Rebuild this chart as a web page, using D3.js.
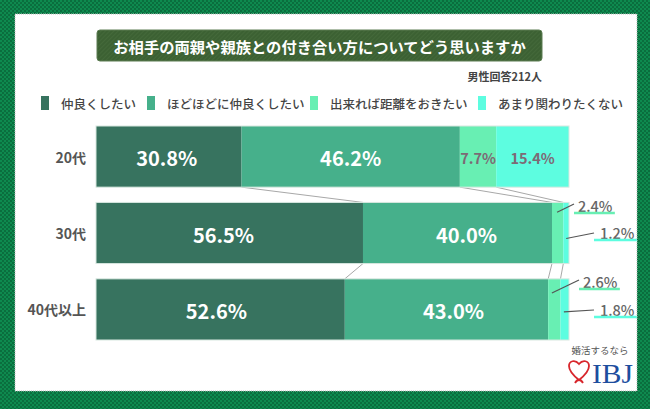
<!DOCTYPE html>
<html><head><meta charset="utf-8">
<script src="https://cdn.jsdelivr.net/npm/d3@7"></script>
<style>html,body{margin:0;padding:0;background:#fff;}svg{display:block;}</style>
</head><body>
<svg id="c" width="650" height="409"></svg>
<script>
const categories = ["20代", "30代", "40代以上"];
const seriesNames = ["仲良くしたい", "ほどほどに仲良くしたい", "出来れば距離をおきたい", "あまり関わりたくない"];
const s1 = [30.8, 56.5, 52.6];
const s2 = [46.2, 40.0, 43.0];
const s3 = [7.7, 2.4, 2.6];
const s4 = [15.4, 1.2, 1.8];
const colors = ["#37735f", "#46b08b", "#68efb3", "#5dfde0"];
const title = "お相手の両親や親族との付き合い方についてどう思いますか";
const note = "男性回答212人";

const font = "'Noto Sans CJK JP','Noto Sans',sans-serif";
const svg = d3.select("#c");
const defs = svg.append("defs");
const pat = defs.append("pattern").attr("id","chk").attr("width",4).attr("height",4).attr("patternUnits","userSpaceOnUse");
pat.append("rect").attr("width",4).attr("height",4).attr("fill","#0a6e3e");
pat.append("rect").attr("width",2).attr("height",2).attr("fill","#0e8a4f");
pat.append("rect").attr("x",2).attr("y",2).attr("width",2).attr("height",2).attr("fill","#0e8a4f");
const tp = defs.append("pattern").attr("id","tstripe").attr("width",3).attr("height",3).attr("patternUnits","userSpaceOnUse").attr("patternTransform","rotate(45)");
tp.append("rect").attr("width",3).attr("height",3).attr("fill","#3c6133");
tp.append("rect").attr("width",1).attr("height",3).attr("fill","#44693a");

svg.append("rect").attr("width",650).attr("height",409).attr("fill","url(#chk)");
svg.append("rect").attr("x",15).attr("y",14).attr("width",622).attr("height",377).attr("fill","#fff")
  .attr("stroke","#bbb").attr("stroke-width",1).attr("stroke-dasharray","1,1");

// title
svg.append("rect").attr("x",97).attr("y",30).attr("width",445).attr("height",31).attr("rx",3)
  .attr("fill","url(#tstripe)").attr("stroke","#5c7d52").attr("stroke-width",1);
svg.append("text").attr("x",319.5).attr("y",46).attr("text-anchor","middle").attr("dominant-baseline","central")
  .attr("fill","#fff").attr("font-family",font).attr("font-weight","bold").attr("font-size",15.3).text(title);
svg.append("text").attr("x",542).attr("y",76).attr("text-anchor","end").attr("dominant-baseline","central")
  .attr("fill","#444").attr("font-family",font).attr("font-weight","bold").attr("font-size",11).text(note);

// legend
const legX = [41, 147, 310, 478];
seriesNames.forEach((n,i)=>{
  const g = svg.append("g");
  g.append("rect").attr("x",legX[i]).attr("y",96).attr("width",8).attr("height",14).attr("fill",colors[i]);
  g.append("text").attr("x",legX[i]+20).attr("y",103).attr("dominant-baseline","central")
    .attr("fill","#444").attr("font-family",font).attr("font-weight","500").attr("font-size",12.5).text(n);
});

// data
const series = [s1,s2,s3,s4];
const rows = categories.map((c,i)=>{
  const vals = series.map(s=>s[i]);
  const total = d3.sum(vals);
  let cum = 0;
  const segs = vals.map((v,k)=>{const a=cum; cum+=v; return {v,k,a:a/total,b:cum/total};});
  return {c, segs};
});

const x = d3.scaleLinear().domain([0,1]).range([96,569]);
const y = d3.scaleBand().domain(categories).range([126,340]).paddingInner(0.2);

// connectors
for (let i=0;i<rows.length-1;i++){
  for (let k=0;k<3;k++){
    svg.append("line")
      .attr("x1",x(rows[i].segs[k].b)).attr("y1",y(rows[i].c)+y.bandwidth())
      .attr("x2",x(rows[i+1].segs[k].b)).attr("y2",y(rows[i+1].c))
      .attr("stroke","#a8a8a8").attr("stroke-width",1);
  }
}

// bars
rows.forEach(r=>{
  const g = svg.append("g");
  g.selectAll("rect").data(r.segs).enter().append("rect")
    .attr("x",d=>x(d.a)).attr("y",y(r.c)).attr("width",d=>x(d.b)-x(d.a)).attr("height",y.bandwidth())
    .attr("fill",d=>colors[d.k]);
  g.append("rect").attr("x",x(0)).attr("y",y(r.c)).attr("width",x(1)-x(0)).attr("height",y.bandwidth())
    .attr("fill","none").attr("stroke","#d8e8e0").attr("stroke-width",1);
  svg.append("text").attr("x",86).attr("y",y(r.c)+y.bandwidth()/2).attr("text-anchor","end").attr("dominant-baseline","central")
    .attr("fill","#555").attr("font-family",font).attr("font-weight","bold").attr("font-size",14).text(r.c);
});

// inside labels
const shift = [[-2,0,0,0],[-6,9,0,0],[-4,7,0,0]];
rows.forEach((r,i)=>{
  r.segs.forEach(d=>{
    const w = x(d.b)-x(d.a);
    if (w < 25) return;
    const big = d.k < 2;
    svg.append("text").attr("x",(x(d.a)+x(d.b))/2 + shift[i][d.k]).attr("y",y(r.c)+y.bandwidth()/2+1)
      .attr("text-anchor","middle").attr("dominant-baseline","central")
      .attr("fill", big ? "#fff" : "#7d6a75").attr("font-family",font).attr("font-weight","bold")
      .attr("font-size", big ? 20 : 14.5).text(d.v.toFixed(1)+"%");
  });
});

// outside labels for small segments
const outLab = [
  {row:1,k:2, px:0.45, py:0.16, tx:578, ty:205, ul:4},
  {row:1,k:3, px:0.5, py:0.59, tx:600, ty:232, ul:6},
  {row:2,k:2, px:0.3, py:0.23, tx:583, ty:281, ul:4},
  {row:2,k:3, px:0.4, py:0.54, tx:600, ty:309, ul:6}
];
outLab.forEach(o=>{
  const r = rows[o.row], d = r.segs[o.k];
  const sx = x(d.a) + (x(d.b)-x(d.a))*o.px;
  const sy = y(r.c) + y.bandwidth()*o.py;
  const t = svg.append("text").attr("x",o.tx).attr("y",o.ty).attr("dominant-baseline","central")
    .attr("fill","#666").attr("font-family",font).attr("font-weight","500").attr("font-size",14.5).text(d.v.toFixed(1)+"%");
  const bb = t.node().getBBox();
  svg.append("line").attr("x1",bb.x-o.ul).attr("x2",bb.x+bb.width+2).attr("y1",o.ty+8).attr("y2",o.ty+8)
    .attr("stroke",colors[o.k]).attr("stroke-width",2.5);
  svg.append("line").attr("x1",sx).attr("y1",sy).attr("x2",bb.x-o.ul).attr("y2",o.ty+ (o.k===2 ? -1 : 1))
    .attr("stroke","#555").attr("stroke-width",1.2);
});

// logo
svg.append("text").attr("x",600).attr("y",350).attr("text-anchor","middle").attr("dominant-baseline","central")
  .attr("fill","#555").attr("font-family",font).attr("font-size",9.5).text("婚活するなら");
svg.append("path")
  .attr("d","M579,380 C574,376 569,370 569,366 C569,361 575,359 579,364 C583,359 589,361 589,366 C589,370 584,376 579,380 M575,383 C577,379 581,379 583,383")
  .attr("fill","none").attr("stroke","#d8262c").attr("stroke-width",1.8);
svg.append("text").attr("x",592).attr("y",383).attr("fill","#1d4e9e")
  .attr("font-family","'Liberation Serif','DejaVu Serif',serif").attr("font-size",28).attr("textLength",41).attr("lengthAdjust","spacingAndGlyphs").text("IBJ");
</script>
</body></html>
